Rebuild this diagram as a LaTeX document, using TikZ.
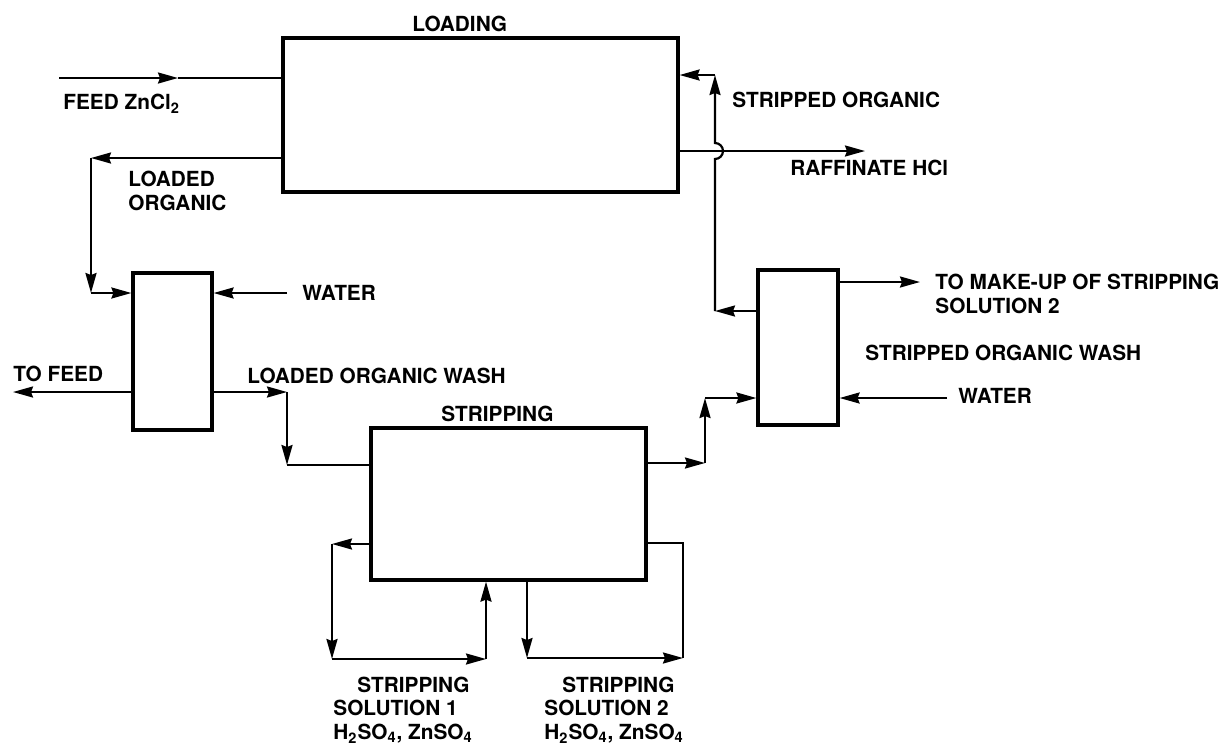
\documentclass[tikz,border=0pt]{standalone}
\usepackage{fontspec}
\setmainfont{TeX Gyre Heros}
\usepackage{tikz}
\usetikzlibrary{calc,arrows.meta}

\begin{document}
\begin{tikzpicture}[x=0.5pt,y=-0.5pt,
  >={Stealth[length=10pt,width=5.5pt,inset=1pt]},
  unit/.style={draw, line width=1.6pt, inner sep=0pt},
  flow/.style={line width=1.1pt, ->},
  pipe/.style={line width=1.1pt},
  lbl/.style={font=\bfseries\fontsize{10.4}{11.8}\selectfont, inner sep=0pt, anchor=west, align=left}]
\useasboundingbox (0,0) rectangle (1223,746);
\node[unit, minimum width=197.5pt, minimum height=77pt] (load) at (480.5,115) {};
\node[unit, minimum width=39.5pt, minimum height=78.5pt] (lwash) at (172.5,351.5) {};
\node[unit, minimum width=137.5pt, minimum height=76pt] (strip) at (508.5,504) {};
\node[unit, minimum width=40pt, minimum height=77.5pt] (swash) at (798,347.5) {};
\coordinate (feedin) at (59,78);
\coordinate (feedmid) at (178,78);
\coordinate (lo1) at (91,158);
\coordinate (lo2) at (91,293);
\coordinate (wat1) at (287,293);
\coordinate (tofeed) at (13,392);
\coordinate (low1) at (287,392);
\coordinate (low2) at (287,465);
\coordinate (so1) at (705,463);
\coordinate (so2) at (705,398);
\coordinate (wat2) at (947,398);
\coordinate (mku) at (920,282);
\coordinate (sor1) at (715,311);
\coordinate (hop) at (715,151);
\coordinate (sor2) at (715,75);
\coordinate (raff) at (865,151);
\coordinate (s1a) at (332,544);
\coordinate (s1b) at (332,659);
\coordinate (s1c) at (486,659);
\coordinate (s2a) at (527,658);
\coordinate (s2b) at (683,658);
\coordinate (s2c) at (683,543);
\draw[flow] (feedin) -- (feedmid);
\draw[pipe] (feedmid) -- (load.west |- feedin);
\draw[flow] (load.west |- lo1) -- (lo1);
\draw[flow] (lo1) -- (lo2);
\draw[flow] (lo2) -- (lwash.west |- lo2);
\draw[flow] (wat1) -- (lwash.east |- wat1);
\draw[flow] (lwash.west |- tofeed) -- (tofeed);
\draw[flow] (lwash.east |- low1) -- (low1);
\draw[flow] (low1) -- (low2);
\draw[pipe] (low2) -- (strip.west |- low2);
\draw[flow] (strip.east |- so1) -- (so1);
\draw[flow] (so1) -- (so2);
\draw[flow] (so2) -- (swash.west |- so2);
\draw[flow] (wat2) -- (swash.east |- wat2);
\draw[flow] (swash.east |- mku) -- (mku);
\draw[flow] (load.east |- raff) -- (raff);
\draw[flow] (swash.west |- sor1) -- (sor1);
\draw[flow] (sor1) -- ($(hop)+(0,8)$) arc[start angle=90, end angle=-90, radius=8] -- (sor2);
\draw[flow] (sor2) -- (load.east |- sor2);
\draw[flow] (strip.west |- s1a) -- (s1a);
\draw[flow] (s1a) -- (s1b);
\draw[flow] (s1b) -- (s1c);
\draw[flow] (s1c) -- (strip.south -| s1c);
\draw[flow] (strip.south -| s2a) -- (s2a);
\draw[flow] (s2a) -- (s2b);
\draw[pipe] (s2b) -- (s2c) -- (strip.east |- s2c);
\path (412,24) node[lbl] {LOADING};
\path (63,104) node[lbl] {FEED ZnCl\textsubscript{2}};
\path (128,191) node[lbl] {LOADED\\ORGANIC};
\path (302,293) node[lbl] {WATER};
\path (13,374) node[lbl] {TO FEED};
\path (247,376) node[lbl] {LOADED ORGANIC WASH};
\path (441,414) node[lbl] {STRIPPING};
\path (732,100) node[lbl] {STRIPPED ORGANIC};
\path (790,168) node[lbl] {RAFFINATE HCl};
\path (935,294) node[lbl] {TO MAKE-UP OF STRIPPING\\SOLUTION 2};
\path (865,353) node[lbl] {STRIPPED ORGANIC WASH};
\path (958,396) node[lbl] {WATER};
\path (333,710) node[lbl] {\hspace*{12pt}STRIPPING\\SOLUTION 1\\H\textsubscript{2}SO\textsubscript{4}, ZnSO\textsubscript{4}};
\path (544,710) node[lbl] {\hspace*{9pt}STRIPPING\\SOLUTION 2\\H\textsubscript{2}SO\textsubscript{4}, ZnSO\textsubscript{4}};
\end{tikzpicture}
\end{document}
